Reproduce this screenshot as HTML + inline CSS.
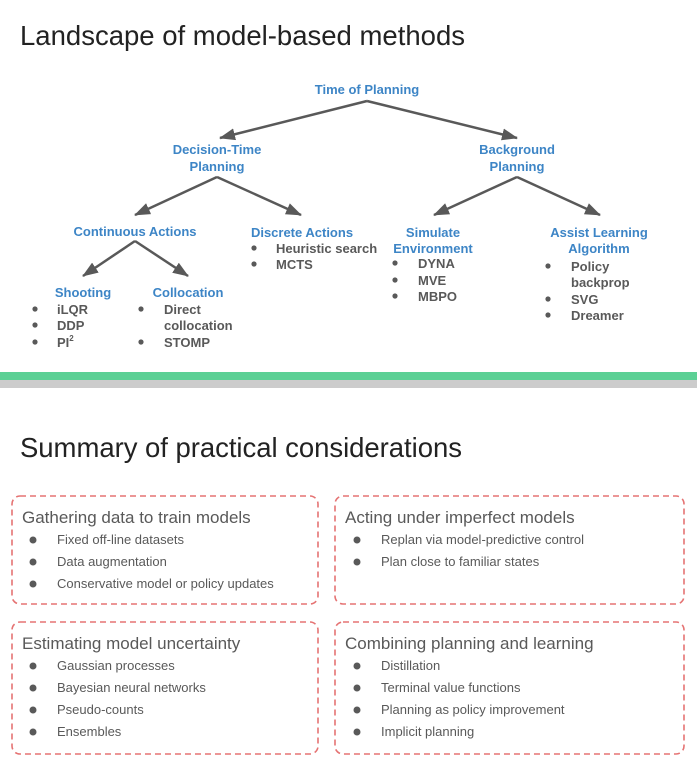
<!DOCTYPE html>
<html><head><meta charset="utf-8"><style>
html,body{margin:0;padding:0;background:#fff;}
svg{display:block;font-family:"Liberation Sans",sans-serif;}
.b{fill:#3d85c6;font-weight:bold;font-size:13px;text-anchor:middle;}
.g{fill:#595959;font-weight:bold;font-size:13px;}
.h{fill:#595959;font-size:17px;}
.t{fill:#595959;font-size:13px;}
</style></head><body>
<svg width="697" height="766" viewBox="0 0 697 766">
<defs>
<marker id="m" markerWidth="16" markerHeight="12" refX="15" refY="6" orient="auto" markerUnits="userSpaceOnUse"><path d="M0,0 L16,6 L0,12 Z" fill="#595959"/></marker></defs>
<text x="20" y="45" font-size="27.5" fill="#222" textLength="445">Landscape of model-based methods</text>
<g stroke="#595959" stroke-width="2.5" fill="none" marker-end="url(#m)">
<path d="M367,101 L220,138"/><path d="M367,101 L517,138"/>
<path d="M217,177 L135,215"/><path d="M217,177 L301,215"/>
<path d="M135,241 L83,276"/><path d="M135,241 L188,276"/>
<path d="M517,177 L434,215"/><path d="M517,177 L600,215"/>
</g>
<text class="b" x="367" y="94">Time of Planning</text>
<text class="b" x="217" y="154">Decision-Time</text><text class="b" x="217" y="171">Planning</text>
<text class="b" x="517" y="154">Background</text><text class="b" x="517" y="171">Planning</text>
<text class="b" x="135" y="236">Continuous Actions</text>
<text class="b" x="302" y="237">Discrete Actions</text>
<text class="b" x="433" y="237">Simulate</text><text class="b" x="433" y="253">Environment</text>
<text class="b" x="599" y="237">Assist Learning</text><text class="b" x="599" y="253">Algorithm</text>
<text class="b" x="83" y="297">Shooting</text>
<text class="b" x="188" y="297">Collocation</text>
<g class="g">
<text x="276" y="253">Heuristic search</text>
<text x="276" y="269">MCTS</text>
<text x="57" y="314">iLQR</text>
<text x="57" y="330">DDP</text>
<text x="57" y="347">PI<tspan font-size="8" dy="-6">2</tspan></text>
<text x="164" y="314">Direct</text>
<text x="164" y="330">collocation</text>
<text x="164" y="347">STOMP</text>
<text x="418" y="268">DYNA</text>
<text x="418" y="285">MVE</text>
<text x="418" y="301">MBPO</text>
<text x="571" y="271">Policy</text>
<text x="571" y="287">backprop</text>
<text x="571" y="304">SVG</text>
<text x="571" y="320">Dreamer</text>
</g>
<g fill="#595959">
<circle cx="254" cy="248" r="2.6"/><circle cx="254" cy="264" r="2.6"/>
<circle cx="35" cy="309" r="2.6"/><circle cx="35" cy="325" r="2.6"/><circle cx="35" cy="342" r="2.6"/>
<circle cx="141" cy="309" r="2.6"/><circle cx="141" cy="342" r="2.6"/>
<circle cx="395" cy="263" r="2.6"/><circle cx="395" cy="280" r="2.6"/><circle cx="395" cy="296" r="2.6"/>
<circle cx="548" cy="266" r="2.6"/><circle cx="548" cy="299" r="2.6"/><circle cx="548" cy="315" r="2.6"/>
</g>
<rect x="0" y="372" width="697" height="8" fill="#5cd095"/>
<rect x="0" y="380" width="697" height="8" fill="#cccccc"/>
<text x="20" y="457" font-size="27.5" fill="#222" textLength="442">Summary of practical considerations</text>
<g fill="none" stroke="#e57373" stroke-width="1.6" stroke-dasharray="6,4">
<rect x="12" y="496" width="306" height="108" rx="8"/>
<rect x="335" y="496" width="349" height="108" rx="8"/>
<rect x="12" y="622" width="306" height="132" rx="8"/>
<rect x="335" y="622" width="349" height="132" rx="8"/>
</g>
<text class="h" x="22" y="523">Gathering data to train models</text>
<text class="h" x="345" y="523">Acting under imperfect models</text>
<text class="h" x="22" y="649">Estimating model uncertainty</text>
<text class="h" x="345" y="649">Combining planning and learning</text>
<g fill="#595959">
<circle cx="33" cy="540" r="3.5"/><circle cx="33" cy="562" r="3.5"/><circle cx="33" cy="584" r="3.5"/>
<circle cx="357" cy="540" r="3.5"/><circle cx="357" cy="562" r="3.5"/>
<circle cx="33" cy="666" r="3.5"/><circle cx="33" cy="688" r="3.5"/><circle cx="33" cy="710" r="3.5"/><circle cx="33" cy="732" r="3.5"/>
<circle cx="357" cy="666" r="3.5"/><circle cx="357" cy="688" r="3.5"/><circle cx="357" cy="710" r="3.5"/><circle cx="357" cy="732" r="3.5"/>
</g>
<g class="t">
<text x="57" y="544">Fixed off-line datasets</text>
<text x="57" y="566">Data augmentation</text>
<text x="57" y="588">Conservative model or policy updates</text>
<text x="381" y="544">Replan via model-predictive control</text>
<text x="381" y="566">Plan close to familiar states</text>
<text x="57" y="670">Gaussian processes</text>
<text x="57" y="692">Bayesian neural networks</text>
<text x="57" y="714">Pseudo-counts</text>
<text x="57" y="736">Ensembles</text>
<text x="381" y="670">Distillation</text>
<text x="381" y="692">Terminal value functions</text>
<text x="381" y="714">Planning as policy improvement</text>
<text x="381" y="736">Implicit planning</text>
</g>
</svg>
</body></html>
